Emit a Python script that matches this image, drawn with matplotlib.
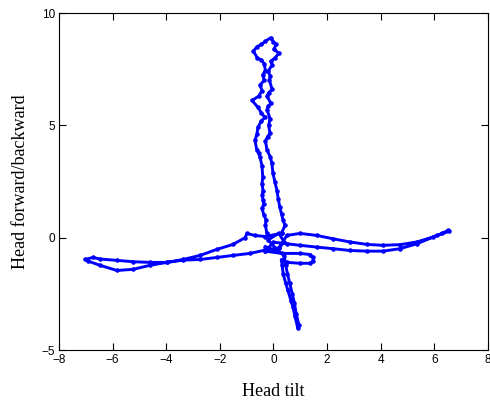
import matplotlib
matplotlib.use('Agg')
import matplotlib.pyplot as plt

# stalk going up (left strand) and back down (right strand)
up_x = [-0.20, -0.25, -0.30, -0.28, -0.35, -0.43, -0.36, -0.39, -0.42, -0.39, -0.43, -0.40,
        -0.43, -0.50, -0.55, -0.62, -0.69, -0.62, -0.58, -0.45, -0.32, -0.45, -0.58, -0.80,
        -0.55, -0.43, -0.50, -0.35, -0.40, -0.30, -0.35, -0.45, -0.60, -0.75, -0.62, -0.45,
        -0.30, -0.10, 0.00, 0.10, 0.02, 0.20, 0.05, -0.10, -0.05, -0.20, -0.12, -0.15,
        -0.05, -0.18, -0.24, -0.10, -0.20, -0.24, -0.13, -0.18, -0.13, -0.22, -0.30, -0.24,
        -0.12, -0.06, -0.02, 0.05, 0.13, 0.18, 0.24, 0.30, 0.36, 0.43, 0.30]
up_y = [0.10, 0.20, 0.55, 0.80, 0.99, 1.30, 1.50, 1.66, 1.90, 2.10, 2.40, 2.68,
        3.20, 3.57, 3.75, 3.89, 4.33, 4.60, 4.91, 5.20, 5.35, 5.55, 5.80, 6.11,
        6.30, 6.55, 6.80, 7.00, 7.25, 7.44, 7.75, 7.90, 8.00, 8.30, 8.50, 8.60,
        8.75, 8.90, 8.70, 8.60, 8.40, 8.20, 8.00, 7.85, 7.70, 7.40, 7.20, 7.00,
        6.60, 6.45, 6.30, 5.98, 5.85, 5.70, 5.30, 5.00, 4.64, 4.50, 4.30, 3.89,
        3.60, 3.31, 2.86, 2.50, 2.10, 1.70, 1.35, 1.05, 0.77, 0.55, 0.20]

# left arm, out along the upper strand and back along the lower one
left_x = [0.30, -0.30, -0.70, -0.99, -1.06, -1.51, -2.11, -2.74, -3.37, -3.97, -4.61,
          -5.24, -5.84, -6.47, -6.73, -7.03, -6.90, -6.47, -5.84, -5.24, -4.61, -3.97,
          -3.37, -2.74, -2.11, -1.51, -0.88, -0.30, 0.20]
left_y = [0.20, 0.05, 0.10, 0.19, 0.00, -0.30, -0.52, -0.79, -0.97, -1.10, -1.10,
          -1.07, -1.01, -0.95, -0.88, -0.97, -1.05, -1.23, -1.46, -1.41, -1.23, -1.10,
          -1.00, -0.97, -0.88, -0.79, -0.70, -0.55, -0.45]

# right arm
right_x = [0.20, 0.50, 0.99, 1.62, 2.22, 2.85, 3.49, 4.08, 4.72, 5.35, 5.95, 6.30, 6.50,
           6.55, 6.10, 5.35, 4.72, 4.08, 3.49, 2.85, 2.22, 1.62, 0.99, 0.50, 0.00, -0.30]
right_y = [-0.45, 0.10, 0.19, 0.10, -0.05, -0.19, -0.30, -0.34, -0.31, -0.19, 0.03, 0.20, 0.32,
           0.28, 0.10, -0.27, -0.49, -0.60, -0.60, -0.57, -0.49, -0.42, -0.34, -0.27, -0.20, -0.60]

# small loop to the right of the centre
loop_x = [-0.30, 0.30, 0.99, 1.36, 1.47, 1.47, 1.36, 0.99, 0.50, 0.30]
loop_y = [-0.60, -0.70, -0.70, -0.75, -0.88, -1.05, -1.14, -1.14, -1.10, -1.00]

# stalk going down
down_x = [0.30, 0.32, 0.36, 0.45, 0.54, 0.65, 0.73, 0.80, 0.91, 0.95, 0.85, 0.78, 0.70,
          0.60, 0.52, 0.45, 0.40, 0.10, -0.20, 0.20, 0.40, 0.10, -0.30]
down_y = [-1.00, -1.20, -1.60, -2.00, -2.35, -2.80, -3.10, -3.50, -4.04, -3.90, -3.40, -2.90, -2.50,
          -2.00, -1.60, -1.20, -0.80, -0.50, -0.10, 0.20, -0.20, -0.60, -0.40]

segments = [(up_x, up_y), (left_x, left_y), (right_x, right_y), (loop_x, loop_y), (down_x, down_y)]

fig = plt.figure(figsize=(4.9, 4.05), dpi=100)
ax = fig.add_axes([0.1204, 0.1358, 0.8755, 0.832])

for sx, sy in segments:
    ax.plot(sx, sy, '.-', color='#0000ff', lw=2.1, ms=4.5)

ax.set_xlim(-8, 8)
ax.set_ylim(-5, 10)
ax.set_xticks(range(-8, 9, 2))
ax.set_yticks([-5, 0, 5, 10])
ax.tick_params(direction='in', top=True, right=True, length=5, width=0.8,
               labelsize=8.5, pad=3)
for lab in ax.get_xticklabels() + ax.get_yticklabels():
    lab.set_family('Liberation Sans')
for sp in ax.spines.values():
    sp.set_linewidth(0.8)

ax.set_xlabel('Head tilt', family='Liberation Serif', fontsize=13, labelpad=12)
ax.set_ylabel('Head forward/backward', family='Liberation Serif', fontsize=13, labelpad=9)

fig.savefig('out.png', dpi=100)
